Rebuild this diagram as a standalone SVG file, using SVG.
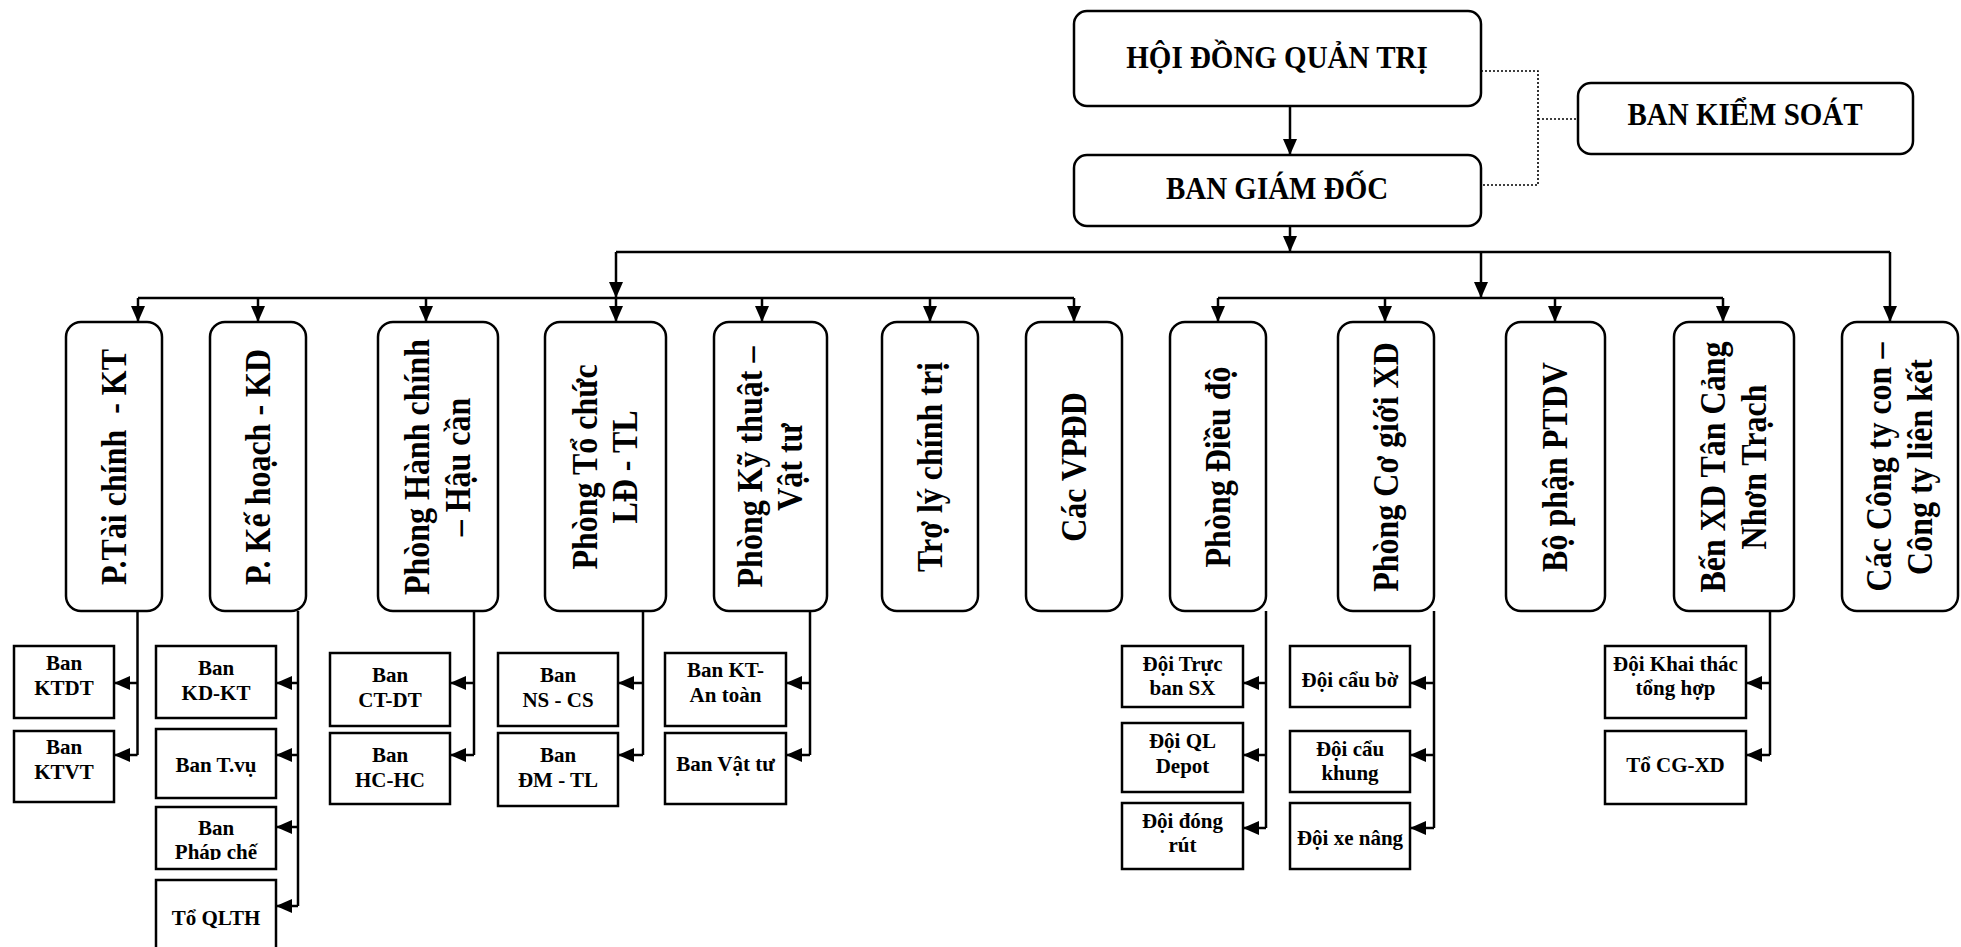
<svg xmlns="http://www.w3.org/2000/svg" width="1961" height="947" viewBox="0 0 1961 947">
<style>
.bx{fill:#fff;stroke:#000;stroke-width:2.5}
.ln{fill:none;stroke:#000;stroke-width:2.5}
.dt{fill:none;stroke:#000;stroke-width:1.6;stroke-dasharray:2 2}
text{font-family:"Liberation Serif","Times New Roman",serif;font-weight:bold;fill:#000;text-anchor:middle}
.t1{font-size:29px}
.t2{font-size:32px}
.t3{font-size:21px}
</style>
<defs>
<marker id="ah" markerUnits="userSpaceOnUse" viewBox="0 0 16 14" markerWidth="16" markerHeight="14" refX="16" refY="7" orient="auto">
<path d="M0,0 L16,7 L0,14 z" fill="#000"/>
</marker>
<clipPath id="cpPC"><rect x="156" y="807" width="120" height="53"/></clipPath>
</defs>
<rect width="1961" height="947" fill="#fff"/>

<g id="connectors">
<path class="ln" d="M1290,106 V155" marker-end="url(#ah)"/>
<path class="ln" d="M1290,226 V252" marker-end="url(#ah)"/>
<path class="dt" d="M1481,71 H1538 V185 H1481 M1538,119 H1578"/>
<path class="ln" d="M616,252 H1890"/>
<path class="ln" d="M616,252 V298" marker-end="url(#ah)"/>
<path class="ln" d="M1481,252 V298" marker-end="url(#ah)"/>
<path class="ln" d="M1890,252 V322" marker-end="url(#ah)"/>
<path class="ln" d="M138,298 H1074"/>
<path class="ln" d="M1218,298 H1723"/>
<path class="ln" d="M138,298 V322" marker-end="url(#ah)"/>
<path class="ln" d="M258,298 V322" marker-end="url(#ah)"/>
<path class="ln" d="M426,298 V322" marker-end="url(#ah)"/>
<path class="ln" d="M616,298 V322" marker-end="url(#ah)"/>
<path class="ln" d="M762,298 V322" marker-end="url(#ah)"/>
<path class="ln" d="M930,298 V322" marker-end="url(#ah)"/>
<path class="ln" d="M1074,298 V322" marker-end="url(#ah)"/>
<path class="ln" d="M1218,298 V322" marker-end="url(#ah)"/>
<path class="ln" d="M1385,298 V322" marker-end="url(#ah)"/>
<path class="ln" d="M1555,298 V322" marker-end="url(#ah)"/>
<path class="ln" d="M1723,298 V322" marker-end="url(#ah)"/>

<path class="ln" d="M137.5,611 V755"/>
<path class="ln" d="M137.5,683 H114" marker-end="url(#ah)"/>
<path class="ln" d="M137.5,755 H114" marker-end="url(#ah)"/>

<path class="ln" d="M298,611 V906"/>
<path class="ln" d="M298,683 H276" marker-end="url(#ah)"/>
<path class="ln" d="M298,755 H276" marker-end="url(#ah)"/>
<path class="ln" d="M298,827 H276" marker-end="url(#ah)"/>
<path class="ln" d="M298,906 H276" marker-end="url(#ah)"/>

<path class="ln" d="M474,611 V755"/>
<path class="ln" d="M474,683 H450" marker-end="url(#ah)"/>
<path class="ln" d="M474,755 H450" marker-end="url(#ah)"/>

<path class="ln" d="M643,611 V755"/>
<path class="ln" d="M643,683 H618" marker-end="url(#ah)"/>
<path class="ln" d="M643,755 H618" marker-end="url(#ah)"/>

<path class="ln" d="M810,611 V755"/>
<path class="ln" d="M810,683 H786" marker-end="url(#ah)"/>
<path class="ln" d="M810,755 H786" marker-end="url(#ah)"/>

<path class="ln" d="M1266,611 V828"/>
<path class="ln" d="M1266,683 H1243" marker-end="url(#ah)"/>
<path class="ln" d="M1266,755 H1243" marker-end="url(#ah)"/>
<path class="ln" d="M1266,828 H1243" marker-end="url(#ah)"/>

<path class="ln" d="M1434,611 V828"/>
<path class="ln" d="M1434,683 H1410" marker-end="url(#ah)"/>
<path class="ln" d="M1434,755 H1410" marker-end="url(#ah)"/>
<path class="ln" d="M1434,828 H1410" marker-end="url(#ah)"/>

<path class="ln" d="M1770,611 V755"/>
<path class="ln" d="M1770,683 H1746" marker-end="url(#ah)"/>
<path class="ln" d="M1770,755 H1746" marker-end="url(#ah)"/>
</g>

<g id="n_hdqt"><rect class="bx" x="1074" y="11" width="407" height="95" rx="13"/><text class="t1" transform="translate(1277,68) scale(1,1.1)">HỘI ĐỒNG QUẢN TRỊ</text></g>
<g id="n_bgd"><rect class="bx" x="1074" y="155" width="407" height="71" rx="13"/><text class="t1" transform="translate(1277,199) scale(1,1.1)">BAN GIÁM ĐỐC</text></g>
<g id="n_bks"><rect class="bx" x="1578" y="83" width="335" height="71" rx="13"/><text class="t1" transform="translate(1745,125) scale(1,1.1)">BAN KIỂM SOÁT</text></g>

<g id="n_tc"><rect class="bx" x="66" y="322" width="96" height="289" rx="15"/><text class="t2" transform="translate(114,467) rotate(-90) scale(1,1.15)" y="10">P.Tài chính&#160; - KT</text></g>
<g id="n_kh"><rect class="bx" x="210" y="322" width="96" height="289" rx="15"/><text class="t2" transform="translate(258,467) rotate(-90) scale(1,1.15)" y="10">P. Kế hoạch - KD</text></g>
<g id="n_hc"><rect class="bx" x="378" y="322" width="120" height="289" rx="15"/><text class="t2" transform="translate(438,467) rotate(-90) scale(1,1.15)"><tspan x="0" y="-7.5">Phòng Hành chính</tspan><tspan x="0" y="27.5">– Hậu cần</tspan></text></g>
<g id="n_tcld"><rect class="bx" x="545" y="322" width="121" height="289" rx="15"/><text class="t2" transform="translate(605.5,467) rotate(-90) scale(1,1.15)"><tspan x="0" y="-7.5">Phòng Tổ chức</tspan><tspan x="0" y="27.5">LĐ - TL</tspan></text></g>
<g id="n_kt"><rect class="bx" x="714" y="322" width="113" height="289" rx="15"/><text class="t2" transform="translate(770.5,467) rotate(-90) scale(1,1.15)"><tspan x="0" y="-7.5">Phòng Kỹ thuật –</tspan><tspan x="0" y="27.5">Vật tư</tspan></text></g>
<g id="n_tl"><rect class="bx" x="882" y="322" width="96" height="289" rx="15"/><text class="t2" transform="translate(930,467) rotate(-90) scale(1,1.15)" y="10">Trợ lý chính trị</text></g>
<g id="n_vp"><rect class="bx" x="1026" y="322" width="96" height="289" rx="15"/><text class="t2" transform="translate(1074,467) rotate(-90) scale(1,1.15)" y="10">Các VPĐD</text></g>
<g id="n_dd"><rect class="bx" x="1170" y="322" width="96" height="289" rx="15"/><text class="t2" transform="translate(1218,467) rotate(-90) scale(1,1.15)" y="10">Phòng Điều độ</text></g>
<g id="n_cg"><rect class="bx" x="1338" y="322" width="96" height="289" rx="15"/><text class="t2" transform="translate(1386,467) rotate(-90) scale(1,1.15)" y="10">Phòng Cơ giới XD</text></g>
<g id="n_pt"><rect class="bx" x="1506" y="322" width="99" height="289" rx="15"/><text class="t2" transform="translate(1555.5,467) rotate(-90) scale(1,1.15)" y="10">Bộ phận PTDV</text></g>
<g id="n_bxd"><rect class="bx" x="1674" y="322" width="120" height="289" rx="15"/><text class="t2" transform="translate(1734,467) rotate(-90) scale(1,1.15)"><tspan x="0" y="-7.5">Bến XD Tân Cảng</tspan><tspan x="0" y="27.5">Nhơn Trạch</tspan></text></g>
<g id="n_ct"><rect class="bx" x="1842" y="322" width="116" height="289" rx="15"/><text class="t2" transform="translate(1900,467) rotate(-90) scale(1,1.15)"><tspan x="0" y="-7.5">Các Công ty con –</tspan><tspan x="0" y="27.5">Công ty liên kết</tspan></text></g>

<g id="s_ktdt"><rect class="bx" x="14" y="646" width="100" height="72"/><text class="t3"><tspan x="64" y="670">Ban</tspan><tspan x="64" y="695">KTDT</tspan></text></g>
<g id="s_ktvt"><rect class="bx" x="14" y="731" width="100" height="71"/><text class="t3"><tspan x="64" y="754">Ban</tspan><tspan x="64" y="779">KTVT</tspan></text></g>
<g id="s_kdkt"><rect class="bx" x="156" y="646" width="120" height="72"/><text class="t3"><tspan x="216" y="675">Ban</tspan><tspan x="216" y="700">KD-KT</tspan></text></g>
<g id="s_tvu"><rect class="bx" x="156" y="729" width="120" height="69"/><text class="t3" x="216" y="772">Ban T.vụ</text></g>
<g id="s_pc"><rect class="bx" x="156" y="807" width="120" height="62"/><text class="t3" clip-path="url(#cpPC)"><tspan x="216" y="835">Ban</tspan><tspan x="216" y="859">Pháp chế</tspan></text></g>
<g id="s_qlth"><rect class="bx" x="156" y="880" width="120" height="90"/><text class="t3" x="216" y="925">Tổ QLTH</text></g>
<g id="s_ctdt"><rect class="bx" x="330" y="653" width="120" height="73"/><text class="t3"><tspan x="390" y="682">Ban</tspan><tspan x="390" y="707">CT-DT</tspan></text></g>
<g id="s_hchc"><rect class="bx" x="330" y="733" width="120" height="71"/><text class="t3"><tspan x="390" y="762">Ban</tspan><tspan x="390" y="787">HC-HC</tspan></text></g>
<g id="s_nscs"><rect class="bx" x="498" y="653" width="120" height="73"/><text class="t3"><tspan x="558" y="682">Ban</tspan><tspan x="558" y="707">NS - CS</tspan></text></g>
<g id="s_dmtl"><rect class="bx" x="498" y="733" width="120" height="73"/><text class="t3"><tspan x="558" y="762">Ban</tspan><tspan x="558" y="787">ĐM - TL</tspan></text></g>
<g id="s_ktat"><rect class="bx" x="665" y="653" width="121" height="73"/><text class="t3"><tspan x="725.5" y="677">Ban KT-</tspan><tspan x="725.5" y="702">An toàn</tspan></text></g>
<g id="s_vt"><rect class="bx" x="665" y="733" width="121" height="71"/><text class="t3" x="725.5" y="771">Ban Vật tư</text></g>
<g id="s_truc"><rect class="bx" x="1122" y="646" width="121" height="61"/><text class="t3"><tspan x="1182.5" y="671">Đội Trực</tspan><tspan x="1182.5" y="695">ban SX</tspan></text></g>
<g id="s_depot"><rect class="bx" x="1122" y="723" width="121" height="69"/><text class="t3"><tspan x="1182.5" y="748">Đội QL</tspan><tspan x="1182.5" y="773">Depot</tspan></text></g>
<g id="s_dong"><rect class="bx" x="1122" y="803" width="121" height="66"/><text class="t3"><tspan x="1182.5" y="828">Đội đóng</tspan><tspan x="1182.5" y="852">rút</tspan></text></g>
<g id="s_caubo"><rect class="bx" x="1290" y="646" width="120" height="61"/><text class="t3" x="1350" y="687">Đội cẩu bờ</text></g>
<g id="s_khung"><rect class="bx" x="1290" y="731" width="120" height="61"/><text class="t3"><tspan x="1350" y="756">Đội cẩu</tspan><tspan x="1350" y="780">khung</tspan></text></g>
<g id="s_xenang"><rect class="bx" x="1290" y="803" width="120" height="66"/><text class="t3" x="1350" y="845">Đội xe nâng</text></g>
<g id="s_khaithac"><rect class="bx" x="1605" y="646" width="141" height="72"/><text class="t3"><tspan x="1675.5" y="671">Đội Khai thác</tspan><tspan x="1675.5" y="695">tổng hợp</tspan></text></g>
<g id="s_cgxd"><rect class="bx" x="1605" y="731" width="141" height="73"/><text class="t3" x="1675.5" y="772">Tổ CG-XD</text></g>
</svg>
